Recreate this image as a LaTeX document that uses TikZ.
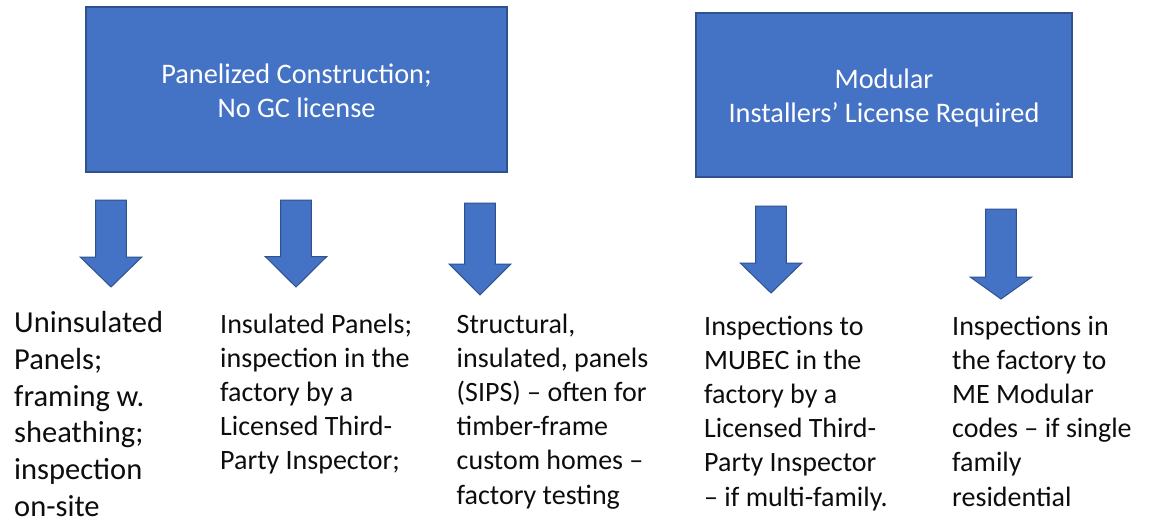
\documentclass[tikz,border=0pt]{standalone}
\usepackage{fontspec}
\setmainfont{Carlito}
\definecolor{boxblue}{HTML}{4472C4}
\definecolor{boxedge}{HTML}{2F528F}
\definecolor{bodyink}{HTML}{0D0D0D}
\newcommand\blockarr[5]{%
  \draw[blockarrow] (#2-15.3,#3) -- (#2+15.3,#3) -- (#2+15.3,#4) -- (#2+30.8,#4)
    -- (#2,#5) coordinate (#1) -- (#2-30.8,#4) -- (#2-15.3,#4) -- cycle;}
\begin{document}
\begin{tikzpicture}[x=1pt,y=-1pt,
  headbox/.style={draw=boxedge, fill=boxblue, line width=1.2pt, inner sep=0pt},
  headtext/.style={text=white, align=center, inner sep=0pt,
    font=\fontsize{28.3}{34}\selectfont},
  bodytext/.style={anchor=base west, align=left, inner sep=0pt, text=bodyink,
    font=\fontsize{28}{34.2}\selectfont},
  bigtext/.style={bodytext, font=\fontsize{30.5}{36.8}\selectfont},
  blockarrow/.style={draw=boxedge, fill=boxblue, line width=1pt, line join=miter}]
\useasboundingbox (0,0) rectangle (1150,523);
\fill[white] (0,0) rectangle (1150,523);

\node[headbox, minimum width=421pt, minimum height=165pt] (panel) at (296.5,89.5) {};
\node[headtext] (panellabel) at ([yshift=-1.5pt]panel.center)
  {Panelized Construction;\\No GC license};
\node[headbox, minimum width=376pt, minimum height=164pt] (modular) at (884,95) {};
\node[headtext] (modularlabel) at ([yshift=-3pt]modular.center)
  {Modular\\Installers’ License Required};

\blockarr{a1}{111}{200}{257}{287}
\blockarr{a2}{296}{200}{256.5}{287}
\blockarr{a3}{480}{203}{264}{295}
\blockarr{a4}{771}{206}{263}{293}
\blockarr{a5}{1001}{209}{277}{299}

% base anchor = baseline of the last line
\node[bigtext] (t1) at (14,516.5)
  {Uninsulated\\Panels;\\framing w.\\sheathing;\\inspection\\on-site};
\node[bodytext] (t2) at (220,469.8)
  {Insulated Panels;\\inspection in the\\factory by a\\Licensed Third-\\Party Inspector;};
\node[bodytext] (t3) at (456.5,504)
  {Structural,\\insulated, panels\\(SIPS) – often for\\timber-frame\\custom homes –\\factory testing};
\node[bodytext] (t4) at (704,506)
  {Inspections to\\MUBEC in the\\factory by a\\Licensed Third-\\Party Inspector\\– if multi-family.};
\node[bodytext] (t5) at (952,506)
  {Inspections in\\the factory to\\ME Modular\\codes – if single\\family\\residential};
\end{tikzpicture}
\end{document}
